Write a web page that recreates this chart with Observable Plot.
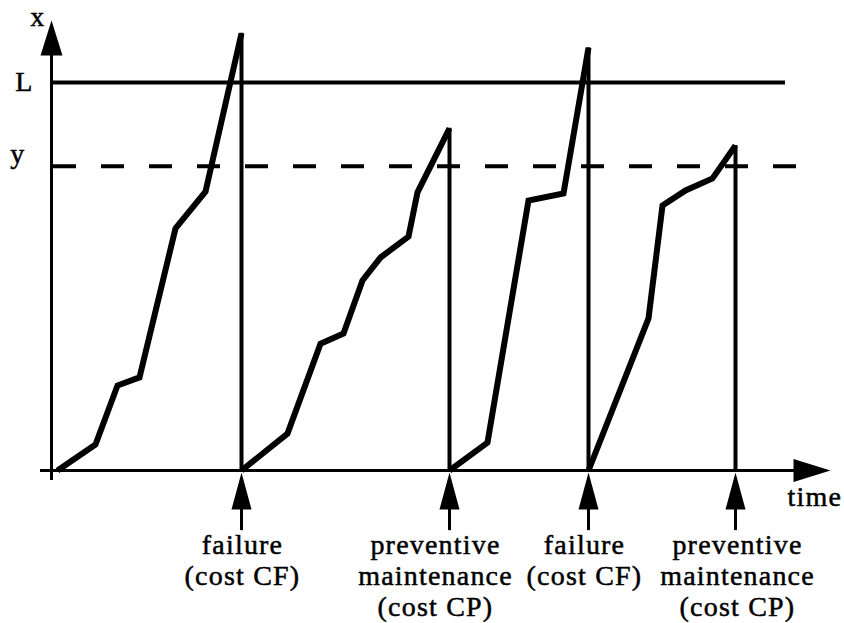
<!DOCTYPE html>
<html>
<head>
<meta charset="utf-8">
<script src="https://cdn.jsdelivr.net/npm/d3@7"></script>
<script src="https://cdn.jsdelivr.net/npm/@observablehq/plot@0.6"></script>
<style>
  html, body { margin: 0; padding: 0; background: #fff; }
  svg text { letter-spacing: 1.2px; font-family: "Liberation Serif", "Times New Roman", "DejaVu Serif", serif !important; }
</style>
</head>
<body>
<div id="chart"></div>
<script>
// ---- data ----
// degradation paths (time, level) for each of the four renewal cycles
const cycle1Time  = [0.6, 4.4, 6.6, 8.8, 12.4, 15.4, 19.0];
const cycle1Level = [0, 6.7, 21.9, 24.0, 62.4, 71.9, 112.7];
const cycle2Time  = [19.0, 23.6, 26.9, 29.2, 31.1, 32.9, 35.7, 36.6, 39.8];
const cycle2Level = [0, 9.5, 32.7, 35.3, 49.0, 54.9, 60.3, 71.7, 88.2];
const cycle3Time  = [39.8, 43.6, 47.7, 51.2, 53.7];
const cycle3Level = [0, 7.2, 69.6, 71.4, 109.0];
const cycle4Time  = [53.7, 59.7, 61.1, 63.4, 66.1, 68.4];
const cycle4Level = [0, 39.2, 68.3, 72.2, 75.3, 83.8];

// events (replacement times) and their peaks
const eventTimes  = [19.0, 39.8, 53.7, 68.4];
const eventPeaks  = [112.7, 88.2, 109.0, 83.8];
const eventLabels = ["failure\n(cost CF)", "preventive\nmaintenance\n(cost CP)", "failure\n(cost CF)", "preventive\nmaintenance\n(cost CP)"];
const labelTimes  = [19.1, 38.4, 53.3, 68.6];

// thresholds
const failureLevel = 100;     // L
const preventiveLevel = 78.4; // y
const thresholdEnd = 73.4;
const dashedEnd = 74.5;

// axis texts
const axisLabels = ["x", "L", "y"];
const axisLabelLevels = [116, failureLevel, preventiveLevel];
const axisLabelDx = [-6, -18, -26];
const axisLabelDy = [5, 8, -3];
const timeLabel = "time";
const timeLabelAt = 73.6;

// axis extents
const xMin = -1.1, xMax = 77.9;
const yMin = -2.6, yMax = 116;

// ---- build tables ----
const cycles = [
  [cycle1Time, cycle1Level], [cycle2Time, cycle2Level],
  [cycle3Time, cycle3Level], [cycle4Time, cycle4Level]
];
const paths = cycles.flatMap(([ts, vs], c) => ts.map((t, i) => ({cycle: c, t, v: vs[i]})));
const events = eventTimes.map((t, i) => ({t, peak: eventPeaks[i], label: eventLabels[i], lt: labelTimes[i]}));
const axisText = axisLabels.map((s, i) => ({s, v: axisLabelLevels[i], dx: axisLabelDx[i], dy: axisLabelDy[i]}));

// custom arrowhead symbols (tip at origin)
const headUp = {draw(ctx) { ctx.moveTo(0, 0); ctx.lineTo(11, 35); ctx.lineTo(-11, 35); ctx.closePath(); }};
const headRight = {draw(ctx) { ctx.moveTo(0, 0); ctx.lineTo(-37, -11.5); ctx.lineTo(-37, 11.5); ctx.closePath(); }};
const headEvent = {draw(ctx) { ctx.moveTo(0, 0); ctx.lineTo(10, 37); ctx.lineTo(-10, 37); ctx.closePath(); }};

const font = "Liberation Serif";
const textStyle = {fontSize: 28, fontFamily: font, fill: "black", stroke: "black", strokeWidth: 0.5};

const chart = Plot.plot({
  width: 844,
  height: 623,
  marginLeft: 51,
  marginRight: 13,
  marginTop: 20,
  marginBottom: 153,
  x: {domain: [0, 78], axis: null},
  y: {domain: [0, 116], axis: null},
  style: {fontFamily: font, fontSize: "28px", background: "white", color: "black"},
  marks: [
    // threshold L
    Plot.ruleY([failureLevel], {x1: 0, x2: thresholdEnd, stroke: "black", strokeWidth: 4}),
    // threshold y (dashed)
    Plot.ruleY([preventiveLevel], {x1: 0.2, x2: dashedEnd, stroke: "black", strokeWidth: 4, strokeDasharray: "23,25"}),
    // axes
    Plot.ruleX([0], {y1: yMin, y2: yMax - 2, stroke: "black", strokeWidth: 3}),
    Plot.ruleY([0], {x1: xMin, x2: xMax - 2, stroke: "black", strokeWidth: 3}),
    Plot.dot([{t: 0, v: yMax}], {x: "t", y: "v", r: 5, symbol: headUp, fill: "black", stroke: null}),
    Plot.dot([{t: xMax, v: 0}], {x: "t", y: "v", r: 5, symbol: headRight, fill: "black", stroke: null}),
    // replacement verticals
    Plot.ruleX(events, {x: "t", y1: 0, y2: "peak", stroke: "black", strokeWidth: 4}),
    // degradation paths
    Plot.line(paths, {x: "t", y: "v", z: "cycle", stroke: "black", strokeWidth: 6,
      strokeLinejoin: "miter", strokeLinecap: "butt", strokeMiterlimit: 8}),
    // event arrows below the axis
    Plot.ruleX(events, {x: "t", y1: -6, y2: -15.5, stroke: "black", strokeWidth: 3}),
    Plot.dot(events, {x: "t", y: -0.5, r: 5, symbol: headEvent, fill: "black", stroke: null}),
    // event labels
    Plot.text(events, {x: "lt", y: 0, text: "label", lineAnchor: "top", lineHeight: 1.12, dy: 61, ...textStyle}),
    // axis labels
    ...axisText.map(d => Plot.text([d], {x: 0, y: "v", text: "s", dx: d.dx, dy: d.dy, textAnchor: "end", lineAnchor: "bottom", ...textStyle})),
    Plot.text([timeLabel], {x: timeLabelAt, y: 0, text: d => d, dy: 35, textAnchor: "start", lineAnchor: "bottom", ...textStyle})
  ]
});
document.getElementById("chart").appendChild(chart);
</script>
</body>
</html>
